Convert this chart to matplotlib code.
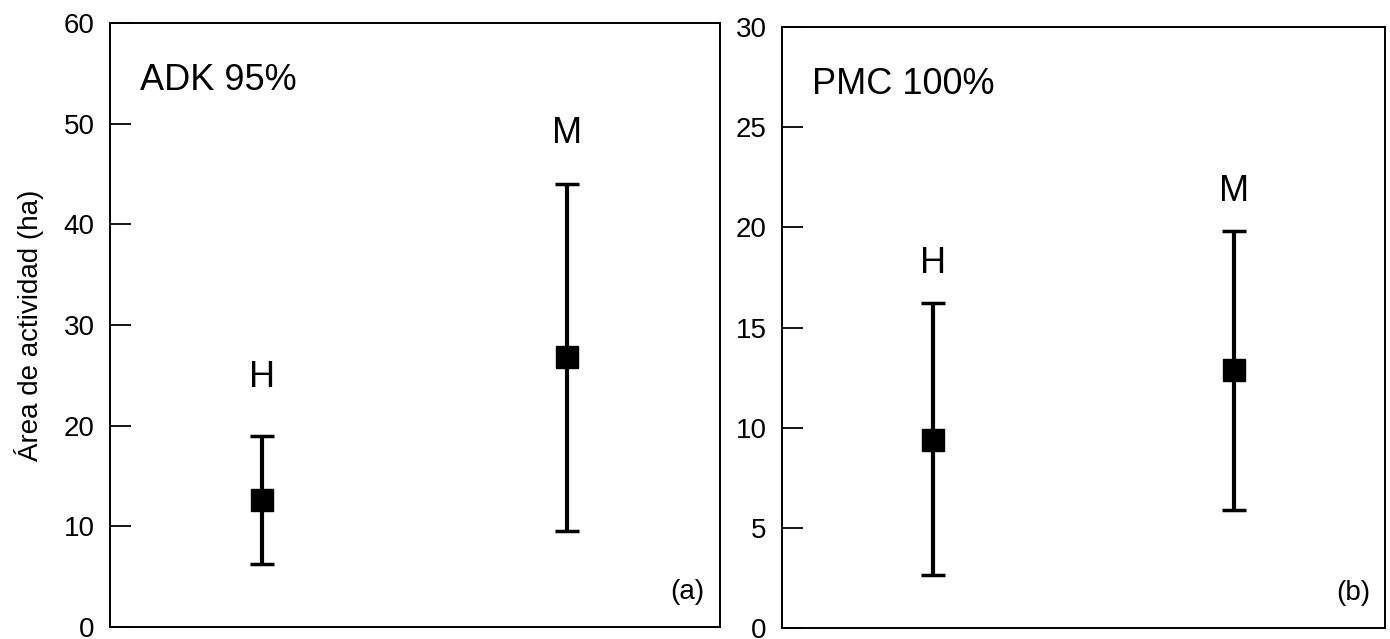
import matplotlib
matplotlib.use('Agg')
import matplotlib.pyplot as plt

plt.rcParams['font.family'] = ['Liberation Sans', 'DejaVu Sans']

# datos
grupos = ['H', 'M']
adk_media = [12.6, 26.8]
adk_sup = [19.0, 44.0]
adk_inf = [6.3, 9.5]
pmc_media = [9.4, 12.9]
pmc_sup = [16.2, 19.8]
pmc_inf = [2.65, 5.9]

paneles = [
    dict(titulo='ADK 95%', letra='(a)', media=adk_media, sup=adk_sup, inf=adk_inf,
         ymax=60, paso=10, etiq_y=[24.8, 49.0],
         rect=[0.0791, 0.0188, 0.4388, 0.9452]),
    dict(titulo='PMC 100%', letra='(b)', media=pmc_media, sup=pmc_sup, inf=pmc_inf,
         ymax=30, paso=5, etiq_y=[18.2, 21.8],
         rect=[0.5626, 0.0172, 0.4338, 0.9405]),
]

fig = plt.figure(figsize=(13.9, 6.39), dpi=100)

for i, p in enumerate(paneles):
    ax = fig.add_axes(p['rect'])
    x = [1, 2]
    err_bajo = [m - l for m, l in zip(p['media'], p['inf'])]
    err_alto = [u - m for m, u in zip(p['media'], p['sup'])]
    ax.errorbar(x, p['media'], yerr=[err_bajo, err_alto], fmt='s', color='black',
                markersize=16, elinewidth=3, capsize=8.5, capthick=2.5, zorder=3)
    for xi, g, ly in zip(x, grupos, p['etiq_y']):
        ax.text(xi, ly, g, ha='center', va='center', fontsize=26)
    ax.text(0.05, 0.905, p['titulo'], transform=ax.transAxes, ha='left', va='center',
            fontsize=26)
    ax.text(0.975, 0.058, p['letra'], transform=ax.transAxes, ha='right', va='center',
            fontsize=20)
    ax.set_xlim(0.5, 2.5)
    ax.set_ylim(0, p['ymax'])
    ax.set_yticks(range(0, p['ymax'] + 1, p['paso']))
    ax.set_xticks([])
    ax.tick_params(axis='y', direction='in', length=15, width=1.3, pad=11, labelsize=20)
    for s in ax.spines.values():
        s.set_linewidth(1.4)
    if i == 0:
        ax.set_ylabel('Área de actividad (ha)', fontsize=20, labelpad=14)

fig.savefig('out.png', dpi=100)
